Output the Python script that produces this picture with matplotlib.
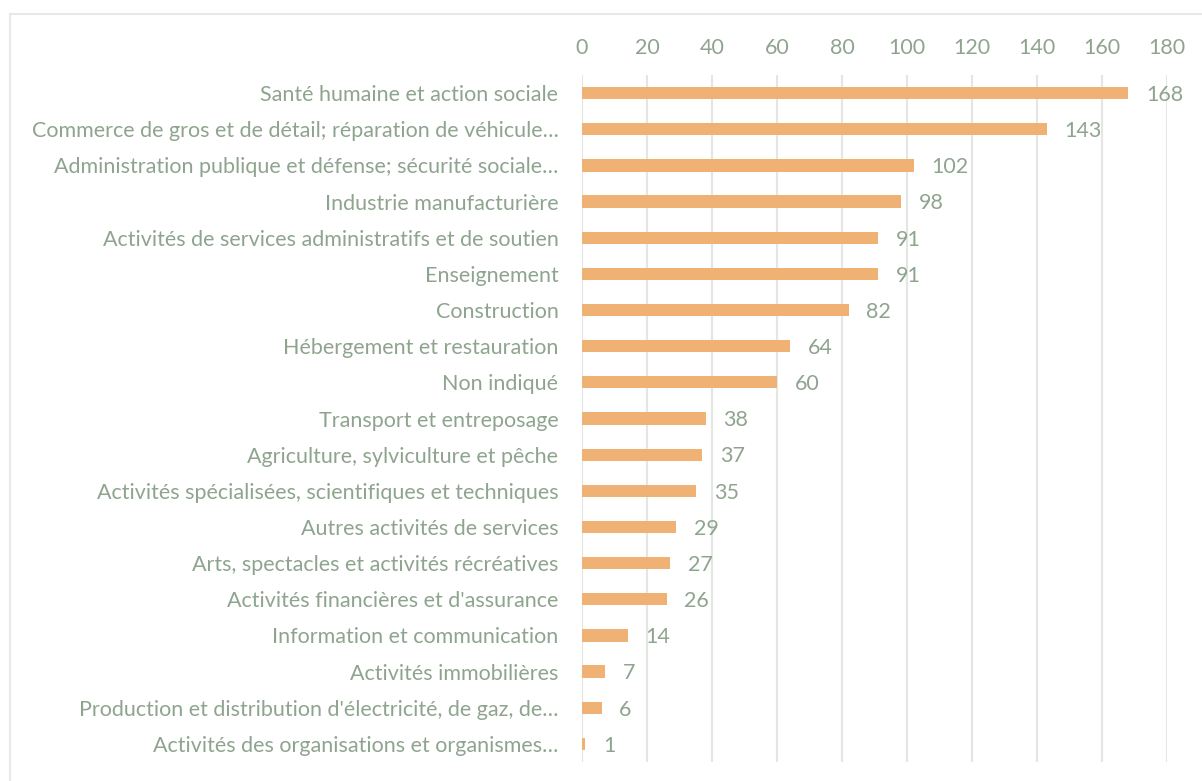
import matplotlib.pyplot as plt
from matplotlib.lines import Line2D

categories = [
    "Santé humaine et action sociale",
    "Commerce de gros et de détail; réparation de véhicule…",
    "Administration publique et défense; sécurité sociale…",
    "Industrie manufacturière",
    "Activités de services administratifs et de soutien",
    "Enseignement",
    "Construction",
    "Hébergement et restauration",
    "Non indiqué",
    "Transport et entreposage",
    "Agriculture, sylviculture et pêche",
    "Activités spécialisées, scientifiques et techniques",
    "Autres activités de services",
    "Arts, spectacles et activités récréatives",
    "Activités financières et d'assurance",
    "Information et communication",
    "Activités immobilières",
    "Production et distribution d'électricité, de gaz, de…",
    "Activités des organisations et organismes…",
]
values = [168, 143, 102, 98, 91, 91, 82, 64, 60, 38, 37, 35, 29, 27, 26, 14, 7, 6, 1]
ticks = [0, 20, 40, 60, 80, 100, 120, 140, 160, 180]

txt = "#8fa48f"
bar_c = "#f0b274"
grid_c = "#e3e6e3"

plt.rcParams['font.family'] = ['Lato', 'DejaVu Sans']

fig = plt.figure(figsize=(12.02, 7.81), dpi=100)
ax = fig.add_axes([582/1202, 1-762/781, (1167-582)/1202, (762-75)/781])

pos = list(range(len(values)))
ax.barh(pos, values, height=0.34, color=bar_c, zorder=3)
for p, v in zip(pos, values):
    ax.text(v + 5.5, p + 0.05, str(v), va='center', ha='left', color=txt, fontsize=15.5, zorder=4)

ax.set_ylim(len(values) - 0.5, -0.5)
ax.set_xlim(0, 180)
ax.set_yticks(pos)
ax.set_yticklabels(categories, fontsize=15.5, color=txt)
ax.set_xticks(ticks)
ax.xaxis.tick_top()
ax.tick_params(axis='x', colors=txt, labelsize=15.5, length=0, pad=12)
ax.tick_params(axis='y', length=0, pad=17)
ax.grid(axis='x', color=grid_c, linewidth=1.5, zorder=0)
for s in ax.spines.values():
    s.set_visible(False)

# outer chart border (left and top edges)
fig.add_artist(Line2D([10/1202, 10/1202], [0, 1-14/781], color="#e6e9e6", lw=1.5, transform=fig.transFigure))
fig.add_artist(Line2D([10/1202, 1], [1-14/781, 1-14/781], color="#e6e9e6", lw=1.5, transform=fig.transFigure))

fig.savefig("out.png", dpi=100)
